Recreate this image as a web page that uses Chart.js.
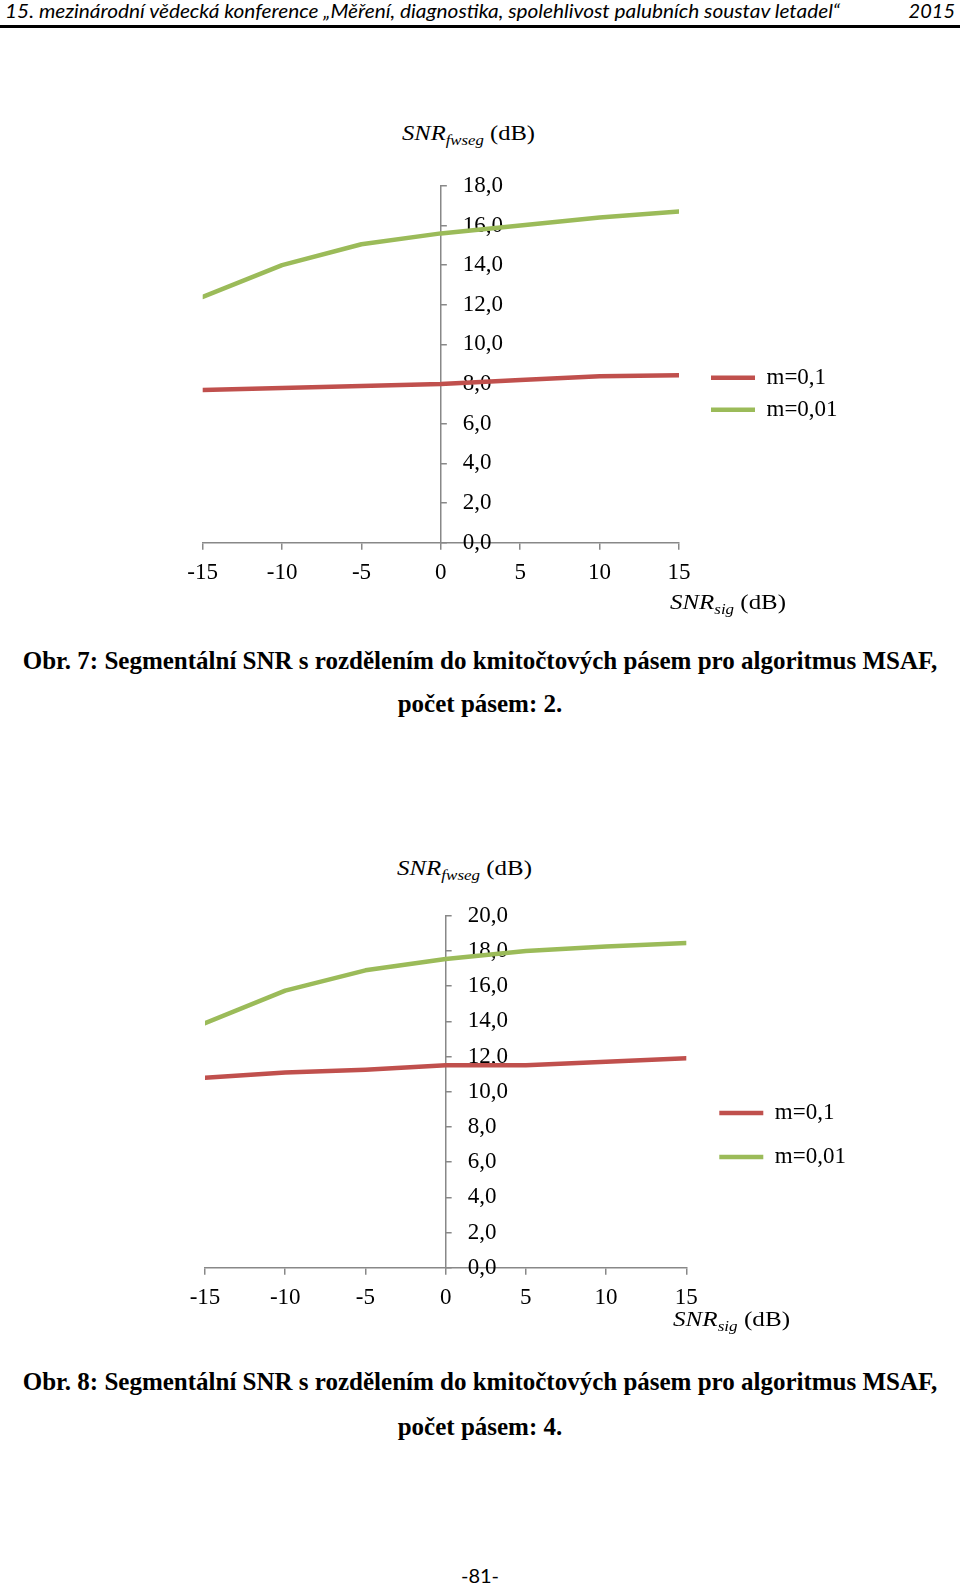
<!DOCTYPE html>
<html>
<head>
<meta charset="utf-8">
<title>Obr. 7 a Obr. 8</title>
<script src="https://cdn.jsdelivr.net/npm/chart.js@4.4.1/dist/chart.umd.min.js"></script>
<style>
  body { margin: 0; width: 960px; height: 1585px; background: #fff; position: relative; overflow: hidden; }
  .t { position: absolute; white-space: nowrap; color: #000; transform-origin: left top; }
  .hdr { font-family: Lato, "Open Sans", sans-serif; font-style: italic; font-size: 20px; line-height: 20px; }
  .cap { font-family: "Liberation Serif", "Times New Roman", serif; font-weight: bold; font-size: 25px; line-height: 25px; left: 0; width: 960px; text-align: center; }
  .axt { font-family: "Liberation Serif", "Times New Roman", serif; font-size: 22px; line-height: 22px; }
  .axt sub { font-style: italic; font-size: 15px; vertical-align: -5px; line-height: 0; }
  canvas { position: absolute; }
</style>
</head>
<body>

<div class="t hdr" style="left:5px; top:0px;" data-w="835">15. mezinárodní vědecká konference „Měření, diagnostika, spolehlivost palubních soustav letadel“</div>
<div class="t hdr" style="right:5px; top:0px;">2015</div>
<div style="position:absolute; left:0; top:25px; width:960px; height:2.5px; background:#000;"></div>

<!-- Obr. 7 -->
<div class="t axt" style="left:402px; top:122px;" data-w="133"><i>SNR</i><sub>fwseg</sub> (dB)</div>
<canvas id="chart7" width="720" height="450" style="left:150px; top:150px;"></canvas>
<div class="t axt" style="left:670px; top:591px;" data-w="116"><i>SNR</i><sub>sig</sub> (dB)</div>
<div class="t cap" style="top:648px;">Obr. 7: Segmentální SNR s rozdělením do kmitočtových pásem pro algoritmus MSAF,</div>
<div class="t cap" style="top:691px;">počet pásem: 2.</div>

<!-- Obr. 8 -->
<div class="t axt" style="left:397px; top:857px;" data-w="135"><i>SNR</i><sub>fwseg</sub> (dB)</div>
<canvas id="chart8" width="720" height="450" style="left:150px; top:880px;"></canvas>
<div class="t axt" style="left:673px; top:1308px;" data-w="117"><i>SNR</i><sub>sig</sub> (dB)</div>
<div class="t cap" style="top:1369px;">Obr. 8: Segmentální SNR s rozdělením do kmitočtových pásem pro algoritmus MSAF,</div>
<div class="t cap" style="top:1414px;">počet pásem: 4.</div>

<div class="t" style="left:0; width:960px; text-align:center; top:1565px; font-family:Lato, sans-serif; font-size:20px; line-height:20px;">-81-</div>

<script>
// x axis: SNR_sig in dB
const xValues = [-15, -10, -5, 0, 5, 10, 15];
const xLabels = ['-15', '-10', '-5', '0', '5', '10', '15'];
const seriesNames = ['m=0,1', 'm=0,01'];
const seriesColors = ['#C0504D', '#9BBB59'];

// Obr. 7 - 2 bands
const red7 = [7.7, 7.8, 7.9, 8.0, 8.2, 8.4, 8.45];
const green7 = [12.4, 14.0, 15.05, 15.6, 16.0, 16.4, 16.7];
const yLabels7 = ['0,0', '2,0', '4,0', '6,0', '8,0', '10,0', '12,0', '14,0', '16,0', '18,0'];

// Obr. 8 - 4 bands
const red8 = [10.8, 11.1, 11.25, 11.5, 11.5, 11.7, 11.9];
const green8 = [13.9, 15.75, 16.9, 17.55, 18.0, 18.25, 18.45];
const yLabels8 = ['0,0', '2,0', '4,0', '6,0', '8,0', '10,0', '12,0', '14,0', '16,0', '18,0', '20,0'];

const serif = '"Liberation Serif", "Times New Roman", serif';
const axisGray = '#888888';

Chart.defaults.font.family = serif;
Chart.defaults.color = '#000';

// Moves the value axis to x = 0 and shifts the legend a bit
const placeAxis = {
    id: 'placeAxis',
    afterLayout(chart, args, opts) {
        const y = chart.scales.y;
        const x0 = chart.scales.x.getPixelForValue(0);
        y.left = x0;
        y.right = x0;
        const lg = chart.legend;
        lg.left += opts.dx;
        lg.right += opts.dx + 150; // legend is clipped to its box, keep the text whole
        lg.top += opts.dy;
        lg.bottom += opts.dy;
    }
};

function makeDataset(i, values) {
    return {
        label: seriesNames[i],
        data: xValues.map((x, k) => ({ x: x, y: values[k] })),
        borderColor: seriesColors[i],
        backgroundColor: seriesColors[i],
        borderWidth: 4.5,
        borderCapStyle: 'round',
        borderJoinStyle: 'round',
        pointRadius: 0,
        tension: 0
    };
}

function makeChart(id, red, green, yLabels, padding, legendPadding, nudge) {
    const ctx = document.getElementById(id).getContext('2d');
    return new Chart(ctx, {
        type: 'line',
        data: {
            datasets: [makeDataset(0, red), makeDataset(1, green)]
        },
        options: {
            responsive: false,
            animation: false,
            layout: { padding: padding },
            scales: {
                x: {
                    type: 'linear',
                    position: 'bottom',
                    min: xValues[0],
                    max: xValues[xValues.length - 1],
                    ticks: {
                        stepSize: 5,
                        autoSkip: false,
                        maxRotation: 0,
                        padding: 9,
                        color: '#000',
                        font: { size: 23 },
                        callback: (v, i) => xLabels[i]
                    },
                    grid: { drawOnChartArea: false, tickLength: 7, color: axisGray, lineWidth: 1.5 },
                    border: { color: axisGray, width: 1.5 },
                    afterFit: s => { s.height = 40; }
                },
                y: {
                    type: 'linear',
                    position: 'left',
                    min: 0,
                    max: (yLabels.length - 1) * 2,
                    ticks: {
                        stepSize: 2,
                        mirror: true,
                        padding: 22,
                        color: '#000',
                        font: { size: 23 },
                        callback: (v, i) => yLabels[i]
                    },
                    grid: { drawOnChartArea: false, tickLength: -6, color: axisGray, lineWidth: 1.5 },
                    border: { color: axisGray, width: 1.5 },
                    afterFit: s => { s.width = 0; }
                }
            },
            plugins: {
                legend: {
                    position: 'right',
                    maxWidth: 120,
                    labels: {
                        usePointStyle: true,
                        pointStyle: 'line',
                        pointStyleWidth: 44,
                        padding: legendPadding,
                        color: '#000',
                        font: { size: 23 }
                    }
                },
                tooltip: { enabled: false },
                placeAxis: nudge
            }
        },
        plugins: [placeAxis]
    });
}

makeChart('chart7', red7, green7, yLabels7,
    { left: 52.7, top: 31, right: 71, bottom: 17.3 }, 9, { dx: 23, dy: 12 });
makeChart('chart8', red8, green8, yLabels8,
    { left: 55, top: 34.3, right: 63.7, bottom: 22.3 }, 21, { dx: 12, dy: 24 });

// squeeze a few texts to the width they have in the original page
document.querySelectorAll('[data-w]').forEach(el => {
    const w = el.getBoundingClientRect().width;
    el.style.transform = 'scaleX(' + (el.dataset.w / w) + ')';
});
</script>
</body>
</html>
